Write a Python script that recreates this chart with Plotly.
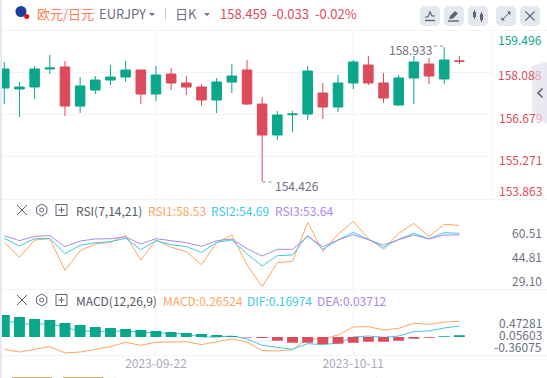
import plotly.graph_objects as go

DATES = ["2023-09-08","2023-09-11","2023-09-12","2023-09-13","2023-09-14","2023-09-15","2023-09-18","2023-09-19","2023-09-20","2023-09-21","2023-09-22",
         "2023-09-25","2023-09-26","2023-09-27","2023-09-28","2023-09-29","2023-10-02","2023-10-03","2023-10-04","2023-10-05","2023-10-06",
         "2023-10-09","2023-10-10","2023-10-11","2023-10-12","2023-10-13","2023-10-16","2023-10-17","2023-10-18","2023-10-19","2023-10-20"]
TICK_DATES = ["2023-09-22", "2023-10-11"]

OPEN = [157.561,157.527,157.595,158.198,158.265,156.957,157.494,157.829,157.930,158.165,157.360,158.030,157.729,157.595,157.159,157.762,
        158.165,157.024,155.985,156.666,156.689,157.393,156.924,157.729,158.332,157.729,156.991,157.896,158.366,157.863,158.468]
HIGH = [158.433,157.762,158.299,158.668,158.466,157.930,157.963,158.332,158.466,158.165,158.299,158.232,157.963,157.695,157.896,158.366,
        158.500,157.259,156.790,156.790,158.299,157.729,157.997,158.500,158.634,158.064,157.997,158.634,158.567,158.933,158.634]
LOW = [157.024,156.588,157.192,158.030,156.622,156.722,157.360,157.662,157.762,157.024,157.125,157.494,157.326,156.957,156.722,157.393,
       156.991,154.426,155.817,156.085,156.488,156.521,156.756,157.527,157.662,157.058,156.957,157.024,157.695,157.695,158.366]
CLOSE = [158.198,157.595,158.198,158.232,156.957,157.628,157.829,157.930,158.165,157.360,157.997,157.729,157.595,157.159,157.762,157.963,
         157.024,155.985,156.655,156.689,158.131,156.924,157.729,158.433,157.729,157.226,157.896,158.433,157.963,158.500,158.459]

RSI1 = [54.21,44.39,55.73,56.61,35.89,48.75,53.12,54.21,58.79,42.65,55.73,50.93,48.10,39.59,53.99,59.01,39.37,25.2,40.90,41.77,67.29,48.32,59.44,67.95,56.83,49.63,60.10,66.64,57.91,65.98,65.33]
RSI2 = [56.83,51.81,56.61,56.83,46.79,52.24,53.99,54.64,56.83,49.41,55.30,52.68,51.37,47.66,54.21,55.73,46.57,38.72,45.48,45.92,58.79,49.63,55.73,60.75,56.17,50.93,56.17,60.10,56.61,60.53,60.10]
RSI3 = [58.57,55.30,58.13,58.57,51.37,55.08,56.39,56.61,57.70,53.12,56.61,55.30,53.99,51.59,55.30,56.39,50.06,45.26,49.63,49.63,58.13,51.37,55.73,59.22,55.73,52.46,55.95,59.01,56.39,59.01,59.01]

MACD_LINE = [-.452,-.545,-.452,-.359,-.580,-.545,-.452,-.359,-.209,-.313,-.209,-.197,-.186,-.290,-.197,-.093,-.197,-.498,-.510,-.464,-.093,-.093,.046,.324,.335,.219,.277,.451,.416,.497,.520]
DIF_LINE = [.532,.451,.405,.451,.301,.196,.162,.162,.185,.138,.127,.115,.080,-.024,-.024,.011,-.093,-.313,-.383,-.452,-.255,-.290,-.232,-.024,.011,-.035,.011,.162,.185,.289,.358]
HIST = [.764,.695,.625,.590,.486,.417,.347,.313,.278,.243,.208,.174,.139,.104,.069,.035,-.020,-.035,-.127,-.197,-.197,-.243,-.232,-.197,-.162,-.162,-.127,-.058,-.023,.023,.058]
HIST_BASE = -0.024

PRICE_TICKS = [159.496, 158.088, 156.679, 155.271, 153.863]
RSI_TICKS = [60.51, 44.81, 29.10]
MACD_TICKS = [0.47281, 0.05603, -0.36075]

GREEN, RED = "#0aa78b", "#dc4b5b"
ORANGE, CYAN, PURPLE = "#ffa55f", "#41c8e2", "#a98ae8"
GRID = "#f2f3f8"
GRAY = "#6d7180"
ICON = "#5f6371"
FONT = "Noto Sans CJK SC"

L, R, T, B = 2, 55, 30, 23
W, H = 547, 378
PW, PH = W - L - R, H - T - B


def px(x):
    return (x - L) / PW


def py(y):
    return 1 - (y - T) / PH


def dom(y0, y1):
    return [py(y1), py(y0)]


fig = go.Figure()
fig.add_trace(go.Candlestick(x=DATES, open=OPEN, high=HIGH, low=LOW, close=CLOSE, xaxis="x", yaxis="y",
                             increasing=dict(line=dict(color=GREEN, width=1), fillcolor=GREEN),
                             decreasing=dict(line=dict(color=RED, width=1), fillcolor=RED),
                             whiskerwidth=0, hoverinfo="skip"))
for vals, c in ((RSI1, ORANGE), (RSI2, CYAN), (RSI3, PURPLE)):
    fig.add_trace(go.Scatter(x=DATES, y=vals, mode="lines", xaxis="x", yaxis="y2", line=dict(color=c, width=1), hoverinfo="skip"))
for vals, c in ((MACD_LINE, ORANGE), (DIF_LINE, CYAN)):
    fig.add_trace(go.Scatter(x=DATES, y=vals, mode="lines", xaxis="x", yaxis="y3", line=dict(color=c, width=1), hoverinfo="skip"))
fig.add_trace(go.Bar(x=DATES, y=HIST, base=HIST_BASE, xaxis="x", yaxis="y4", width=0.72,
                     marker=dict(color=[GREEN if v >= 0 else RED for v in HIST], line=dict(width=0)), hoverinfo="skip"))

ann = []


def text(x, y, s, color=GRAY, size=12, anchor="left", yref=None, height=None):
    ann.append(dict(x=px(x), y=y if yref else py(y), xref="paper", yref=yref or "paper", text=s, showarrow=False,
                    xanchor=anchor, yanchor="middle", align=anchor, borderpad=0, borderwidth=0, height=height,
                    font=dict(family=FONT, size=size, color=color)))


shapes = []


def line(x0, y0, x1, y1, color=GRID, width=1, dash="solid", layer="above"):
    shapes.append(dict(type="line", xref="paper", yref="paper", x0=px(x0), y0=py(y0), x1=px(x1), y1=py(y1),
                       line=dict(color=color, width=width, dash=dash), layer=layer))


def path(points, color=None, lw=1.2, fill=None, close=False, layer="above"):
    d = "M" + " L".join(f"{px(a):.5f},{py(b):.5f}" for a, b in points) + (" Z" if close else "")
    shapes.append(dict(type="path", xref="paper", yref="paper", path=d, layer=layer,
                       line=dict(color=color or "rgba(0,0,0,0)", width=lw if color else 0), fillcolor=fill or "rgba(0,0,0,0)"))


def rrect(x0, y0, x1, y1, r, fill):
    ax = [(x0 + r, y0), (x1 - r, y0), (x1 - r * .3, y0 + r * .3), (x1, y0 + r), (x1, y1 - r), (x1 - r * .3, y1 - r * .3),
          (x1 - r, y1), (x0 + r, y1), (x0 + r * .3, y1 - r * .3), (x0, y1 - r), (x0, y0 + r), (x0 + r * .3, y0 + r * .3)]
    path(ax, fill=fill, close=True)


def circle(cx, cy, r, fill):
    shapes.append(dict(type="circle", xref="paper", yref="paper", x0=px(cx - r), x1=px(cx + r), y0=py(cy + r), y1=py(cy - r),
                       fillcolor=fill, line=dict(width=0), layer="above"))


def cross(cx, cy, s, color=ICON, lw=1.1):
    line(cx - s, cy - s, cx + s, cy + s, color, lw)
    line(cx - s, cy + s, cx + s, cy - s, color, lw)


# page chrome: left strip, pane separators
shapes.append(dict(type="rect", xref="paper", yref="paper", x0=px(0), x1=px(2), y0=py(0), y1=py(378), fillcolor="#e7eaf4", line=dict(width=0), layer="above"))
line(2, 30.5, 547, 30.5)
line(2, 199.5, 547, 199.5)
line(2, 289.5, 547, 289.5)
line(2, 355.5, 547, 355.5)
line(492.5, 30, 492.5, 199)
line(114.5, 374, 114.5, 378)
line(376.5, 374, 376.5, 378)
shapes.append(dict(type="rect", xref="paper", yref="paper", x0=px(12), x1=px(52), y0=py(377), y1=py(378), fillcolor="#dfa95a", line=dict(width=0), layer="above"))
shapes.append(dict(type="rect", xref="paper", yref="paper", x0=px(63), x1=px(103), y0=py(377), y1=py(378), fillcolor="#dfa95a", line=dict(width=0), layer="above"))

# header
circle(21, 11.5, 5.5, "#1b3f9b")
circle(26.7, 16.5, 2.5, "#f20d0d")
text(36.5, 13.5, "欧元/日元", "#ff7d55", 13)
text(98.5, 13.5, "EURJPY", GRAY, 13)
path([(149, 13), (155, 13), (152, 16)], fill=GRAY, close=True)
line(165.5, 8, 165.5, 20, "#c9ccd6")
text(175, 13.5, "日K", GRAY, 13)
path([(204, 13), (210, 13), (207, 16)], fill=GRAY, close=True)
text(220, 13.5, "158.459", RED, 13)
text(272, 13.5, "-0.033", RED, 13)
text(315, 13.5, "-0.02%", RED, 13)

# toolbar
for x0 in (420, 444, 468, 496, 520):
    rrect(x0, 6, x0 + 20, 26, 4, "#e6e8ef")
path([(425, 17), (428, 17), (430, 12), (432, 16), (435, 16)], ICON, 1.2)
line(425, 20.5, 435, 20.5, ICON, 1.4)
path([(449, 19), (450, 16), (455, 11), (458, 13.5), (453, 18.5)], fill=ICON, close=True)
line(448, 21, 459, 21, ICON, 1.4)
line(474.5, 10, 474.5, 19, ICON, 1)
line(481.5, 12, 481.5, 22, ICON, 1)
shapes.append(dict(type="rect", xref="paper", yref="paper", x0=px(473), x1=px(476), y0=py(17), y1=py(12), fillcolor=ICON, line=dict(width=0), layer="above"))
shapes.append(dict(type="rect", xref="paper", yref="paper", x0=px(480), x1=px(483), y0=py(20), y1=py(14), fillcolor=ICON, line=dict(width=0), layer="above"))
line(502, 20, 510, 12, ICON, 1)
path([(507, 11.5), (510.5, 11.5), (510.5, 15)], fill=ICON, close=True)
path([(501.5, 17), (501.5, 20.5), (505, 20.5)], fill=ICON, close=True)
cross(530, 16, 4.5, ICON, 1.1)

# collapse tab
path([(532, 66), (547, 62), (547, 124), (532, 113)], fill="#e8e9f1", close=True)
path([(542.5, 88.5), (538, 93), (542.5, 97.5)], ICON, 1.6)


def pane_controls(cy):
    cross(22, cy, 5, ICON, 1)
    path([(41.7, cy - 6), (46.8, cy - 3), (46.8, cy + 3), (41.7, cy + 6), (36.6, cy + 3), (36.6, cy - 3)], ICON, 1, close=True)
    shapes.append(dict(type="circle", xref="paper", yref="paper", x0=px(39.7), x1=px(43.7), y0=py(cy + 2), y1=py(cy - 2), line=dict(color=ICON, width=1), layer="above"))
    path([(56, cy - 5.5), (67, cy - 5.5), (67, cy + 5.5), (56, cy + 5.5)], ICON, 1, close=True)
    line(58.5, cy, 64.5, cy, ICON, 1)
    line(61.5, cy - 3, 61.5, cy + 3, ICON, 1)


pane_controls(210)
pane_controls(300)
text(76, 210.5, "RSI(7,14,21)", "#555a66", 12)
text(147.5, 210.5, "RSI1:58.53", ORANGE, 12)
text(211, 210.5, "RSI2:54.69", CYAN, 12)
text(275, 210.5, "RSI3:53.64", PURPLE, 12)
text(76, 300.5, "MACD(12,26,9)", "#555a66", 12)
text(162.5, 300.5, "MACD:0.26524", ORANGE, 12)
text(247, 300.5, "DIF:0.16974", CYAN, 12)
text(317, 300.5, "DEA:0.03712", PURPLE, 12)

# price labels (the collapse tab veils the last digit of the two labels beside it)
FADED = "#eba7ae"
for i, (v, y, c) in enumerate(zip(PRICE_TICKS, (39.7, 75, 117.7, 159.7, 190), (GREEN, RED, RED, RED, RED))):
    s = f"{v:.3f}"
    if i in (1, 2):
        s = f'{s[:-1]}<span style="color:{FADED}">{s[-1]}</span>'
    text(541.5, y, s, c, 12, "right")
for v in RSI_TICKS:
    text(541.5, v, f"{v:.2f}", GRAY, 12, "right", yref="y2")
for v in MACD_TICKS:
    text(541.5, v, f"{v:.5f}", GRAY, 12, "right", yref="y3", height=11)

# high / low callouts
text(431.5, 49.5, f"{max(HIGH):.3f}", GRAY, 12, "right")
line(434, 46, 444, 46, "#8a8e9a", 1, "dot")
text(275, 185, f"{min(LOW):.3f}", GRAY, 12, "left")
line(262.5, 182, 273, 182, "#8a8e9a", 1, "dot")

hidden_y = dict(showticklabels=False, ticks="", zeroline=False, showline=False, showgrid=False, anchor="x", fixedrange=True)
fig.update_layout(
    width=W, height=H, autosize=False, margin=dict(l=L, r=R, t=T, b=B, pad=0),
    paper_bgcolor="#ffffff", plot_bgcolor="#ffffff", showlegend=False, boxgap=0.1, barmode="overlay",
    font=dict(family=FONT, size=12, color=GRAY),
    xaxis=dict(type="category", categoryorder="array", categoryarray=DATES, range=[-0.15, 32.15], rangeslider=dict(visible=False),
               tickmode="array", tickvals=TICK_DATES, ticktext=TICK_DATES, showgrid=True, gridcolor=GRID, gridwidth=1,
               ticks="", zeroline=False, showline=False, anchor="y3",
               tickfont=dict(family=FONT, size=12, color="#a9abbc"), fixedrange=True),
    yaxis=dict(domain=dom(30, 199.5), range=[153.823, 159.506], **{**hidden_y, "showgrid": True}, gridcolor=GRID,
               tickmode="array", tickvals=PRICE_TICKS[1:4]),
    yaxis2=dict(domain=dom(199.5, 289.3), range=[23.47, 82.24], **hidden_y),
    yaxis3=dict(domain=dom(289.3, 355), range=[-0.6495, 1.633], **hidden_y),
    yaxis4=dict(range=[-0.6495, 1.633], overlaying="y3", **hidden_y),
    shapes=shapes, annotations=ann,
)
fig.write_html("out.html", config=dict(displayModeBar=False, staticPlot=True),
               post_script="document.body.style.margin='0';document.body.style.overflow='hidden';")
